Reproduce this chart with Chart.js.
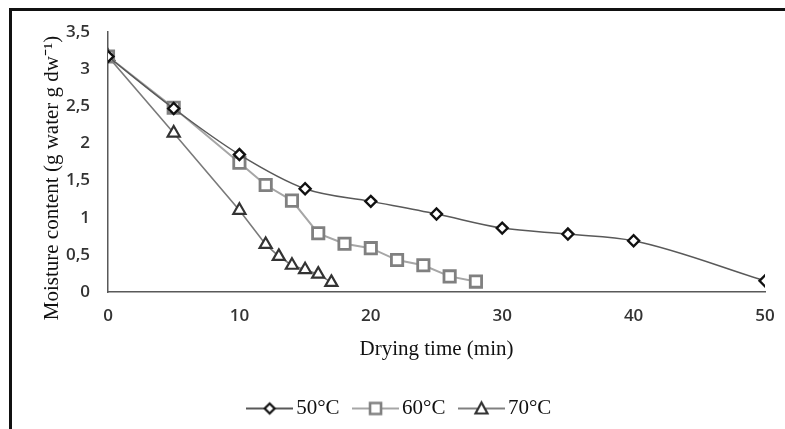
<!DOCTYPE html>
<html>
<head>
<meta charset="utf-8">
<script src="https://cdn.jsdelivr.net/npm/chart.js@4.4.1/dist/chart.umd.min.js"></script>
<style>
    html, body { margin: 0; padding: 0; background: #fff; }
    #wrap { position: relative; width: 785px; height: 429px; overflow: hidden; }
    #frame {
        position: absolute; left: 9px; top: 8px; right: -10px; bottom: -10px;
        border-left: 3px solid #111; border-top: 3px solid #111;
        pointer-events: none;
    }
    canvas { position: absolute; left: 0; top: 0; }
</style>
</head>
<body>
<div id="wrap">
    <canvas id="dryingChart" width="785" height="429"></canvas>
    <div id="frame"></div>
</div>
<script>
// Drying curves
const time50 = [0, 5, 10, 15, 20, 25, 30, 35, 40, 50];
const moist50 = [3.17, 2.47, 1.85, 1.39, 1.22, 1.05, 0.86, 0.78, 0.69, 0.15];

const time60 = [0, 5, 10, 12, 14, 16, 18, 20, 22, 24, 26, 28];
const moist60 = [3.17, 2.48, 1.74, 1.44, 1.23, 0.79, 0.65, 0.59, 0.43, 0.36, 0.21, 0.14];

const time70 = [0, 5, 10, 12, 13, 14, 15, 16, 17];
const moist70 = [3.17, 2.14, 1.10, 0.64, 0.48, 0.36, 0.30, 0.24, 0.13];

const seriesLabels = ['50°C', '60°C', '70°C'];
const xTitle = 'Drying time (min)';
const yTitle = 'Moisture content (g water g dw⁻¹)';

const tickFont = { family: "'Open Sans', sans-serif", size: 17, weight: '600' };
const serifFont = { family: "'Liberation Serif', 'Times New Roman', serif", size: 21 };

function toPoints(xs, ys) {
    return xs.map((x, i) => ({ x: x, y: ys[i] }));
}

/**
 * Build a small legend icon: a line with the marker in the middle
 */
function legendIcon(style, lineColor, markerColor, markerWidth) {
    const c = document.createElement('canvas');
    c.width = 47;
    c.height = 18;
    const g = c.getContext('2d');
    const cx = 23.5, cy = 9;
    g.strokeStyle = lineColor;
    g.lineWidth = 1.8;
    g.beginPath();
    g.moveTo(0, cy);
    g.lineTo(47, cy);
    g.stroke();
    g.fillStyle = '#fff';
    g.strokeStyle = markerColor;
    g.lineWidth = markerWidth;
    g.beginPath();
    if (style === 'diamond') {
        g.moveTo(cx, cy - 5); g.lineTo(cx + 5, cy); g.lineTo(cx, cy + 5); g.lineTo(cx - 5, cy);
    } else if (style === 'square') {
        g.rect(cx - 5.5, cy - 5.5, 11, 11);
    } else {
        g.moveTo(cx, cy - 6); g.lineTo(cx + 6, cy + 5); g.lineTo(cx - 6, cy + 5);
    }
    g.closePath();
    g.fill();
    g.stroke();
    return c;
}

const icons = [
    legendIcon('diamond', '#595959', '#111', 2.2),
    legendIcon('square', '#a6a6a6', '#808080', 2.6),
    legendIcon('triangle', '#808080', '#333', 2.2)
];

// y title sits a little below the middle of the plot, as in the original figure
const yTitlePlugin = {
    id: 'yTitle',
    afterDraw(chart) {
        const area = chart.chartArea;
        const g = chart.ctx;
        g.save();
        g.translate(52, (area.top + area.bottom) / 2 + 16);
        g.rotate(-Math.PI / 2);
        g.font = `${serifFont.size}px ${serifFont.family}`;
        g.fillStyle = '#111';
        g.textAlign = 'center';
        g.textBaseline = 'middle';
        g.fillText(yTitle, 0, 0);
        g.restore();
    }
};

const ctx = document.getElementById('dryingChart');

new Chart(ctx, {
    type: 'line',
    data: {
        datasets: [{
            label: seriesLabels[0],
            data: toPoints(time50, moist50),
            borderColor: '#595959',
            borderWidth: 1.5,
            cubicInterpolationMode: 'monotone',
            pointStyle: 'rectRot',
            pointRadius: 5.5,
            pointBorderWidth: 2.4,
            pointBorderColor: '#111',
            pointBackgroundColor: '#fff'
        }, {
            label: seriesLabels[1],
            data: toPoints(time60, moist60),
            borderColor: '#a6a6a6',
            borderWidth: 2,
            tension: 0,
            pointStyle: 'rect',
            pointRadius: 8,
            pointBorderWidth: 2.8,
            pointBorderColor: '#808080',
            pointBackgroundColor: '#fff'
        }, {
            label: seriesLabels[2],
            data: toPoints(time70, moist70),
            borderColor: '#7a7a7a',
            borderWidth: 1.6,
            tension: 0,
            pointStyle: 'triangle',
            pointRadius: 7,
            pointBorderWidth: 2.2,
            pointBorderColor: '#333',
            pointBackgroundColor: '#fff'
        }]
    },
    options: {
        responsive: false,
        animation: false,
        layout: {
            padding: { left: 40, right: 20, top: 32, bottom: 0 }
        },
        plugins: {
            tooltip: { enabled: false },
            legend: {
                position: 'bottom',
                labels: {
                    font: serifFont,
                    color: '#111',
                    usePointStyle: true,
                    pointStyleWidth: 32,
                    padding: 20,
                    generateLabels: function(chart) {
                        return chart.data.datasets.map((d, i) => ({
                            text: d.label,
                            pointStyle: icons[i],
                            fontColor: '#111',
                            lineWidth: 0,
                            hidden: false,
                            datasetIndex: i
                        }));
                    }
                }
            }
        },
        scales: {
            x: {
                type: 'linear',
                min: 0,
                max: 50,
                ticks: {
                    stepSize: 10,
                    font: tickFont,
                    color: '#333',
                    padding: 14,
                    maxRotation: 0
                },
                grid: { display: false, drawTicks: false },
                border: { display: true, color: '#595959', width: 1.5 },
                title: {
                    display: true,
                    text: xTitle,
                    font: serifFont,
                    color: '#111',
                    padding: { top: 4, bottom: 16 }
                },
                afterFit: function(scale) {
                    scale.height = 86;
                    // layout padding already leaves room for the end labels
                    scale.paddingLeft = 0;
                    scale.paddingRight = 0;
                }
            },
            y: {
                min: 0,
                max: 3.5,
                ticks: {
                    stepSize: 0.5,
                    font: tickFont,
                    color: '#333',
                    padding: 18,
                    callback: v => String(v).replace('.', ',')
                },
                grid: { display: false, drawTicks: false },
                border: { display: true, color: '#595959', width: 1.5 },
                title: { display: false },
                afterFit: function(scale) { scale.width = 68; }
            }
        }
    },
    plugins: [yTitlePlugin]
});
</script>
</body>
</html>
